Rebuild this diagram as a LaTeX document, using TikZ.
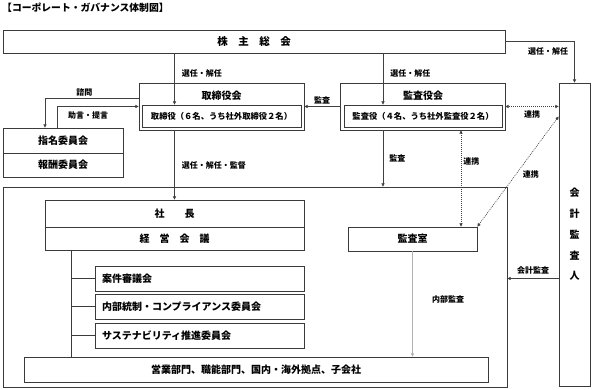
\documentclass[tikz,border=0pt]{standalone}
\usepackage{fontspec}
\setmainfont{Noto Sans CJK JP}
\usetikzlibrary{arrows.meta, positioning, calc}
\definecolor{edge}{HTML}{3A3A3A}

\begin{document}
\begin{tikzpicture}[
    x=1pt, y=-1pt,
    font=\fontsize{9}{11}\selectfont\bfseries,
    >={Triangle[length=3.2pt,width=3.2pt]},
    box/.style={
        draw=edge, line width=0.8pt, inner sep=0pt, fill=white, align=center
    },
    ttl/.style={font=\fontsize{10}{12}\selectfont\bfseries, inner sep=0pt},
    small/.style={font=\fontsize{8.3}{10}\selectfont\bfseries},
    lbl/.style={font=\fontsize{8}{9}\selectfont\bfseries, inner sep=1pt},
    flow/.style={->, line width=0.6pt, draw=black!75},
    link/.style={<->, line width=0.6pt, draw=black!75, dash pattern=on 1pt off 1pt},
    tree/.style={draw=edge, line width=0.8pt}
]
\useasboundingbox (0,0) rectangle (592,390);

% TITLE
\node[anchor=west, font=\fontsize{9.8}{11}\selectfont\bfseries, inner sep=0pt] (title) at (2,8) {【コーポレート・ガバナンス体制図】};

% EXECUTION GROUP (outer frame)
\node[box, fill=none, minimum width=504pt, minimum height=200pt] (grp) at (255,287) {};

% SHAREHOLDERS
\node[box, minimum width=502pt, minimum height=23pt, font=\fontsize{10.5}{12}\selectfont\bfseries] (sh) at (254,41.5) {株　主　総　会};

% BOARD / AUDITORS
\node[box, minimum width=165pt, minimum height=47pt] (bod) at (221.5,106.5) {};
\node[ttl] (bodt) at (221.5,95.5) {取締役会};
\node[box, small, minimum width=159pt, minimum height=22pt] (bodin) at (221.5,116) {取締役（６名、うち社外取締役２名）};

\node[box, minimum width=165pt, minimum height=47pt] (kan) at (422.5,106.5) {};
\node[ttl] (kant) at (423,95.5) {監査役会};
\node[box, small, minimum width=158pt, minimum height=22pt] (kanin) at (423,116) {監査役（４名、うち社外監査役２名）};

% COMMITTEES
\node[box, ttl, minimum width=120pt, minimum height=25pt] (nom) at (63,140.5) {指名委員会};
\node[box, ttl, minimum width=120pt, minimum height=24pt] (rem) at (63,165) {報酬委員会};

% ACCOUNTING AUDITOR
\node[box, minimum width=31pt, minimum height=303pt, inner sep=0pt,
      font=\fontsize{10}{20.8}\selectfont\bfseries] (acct) at (574.5,234.5) {会\\計\\監\\査\\人};

% MANAGEMENT
\node[box, ttl, minimum width=259pt, minimum height=27pt] (pres) at (174.5,213.5) {社　　長};
\node[box, ttl, minimum width=259pt, minimum height=23pt] (mtg) at (174.5,238.5) {経　営　会　議};
\node[box, ttl, minimum width=129pt, minimum height=24pt] (aud) at (412.5,239) {監査室};

\node[box, ttl, minimum width=209pt, minimum height=25pt, text width=195pt, align=left] (c1) at (199.5,278.5) {案件審議会};
\node[box, ttl, minimum width=209pt, minimum height=25pt, text width=195pt, align=left] (c2) at (199.5,306.5) {内部統制・コンプライアンス委員会};
\node[box, ttl, minimum width=209pt, minimum height=25pt, text width=195pt, align=left] (c3) at (199.5,335.5) {サステナビリティ推進委員会};

\node[box, ttl, minimum width=464pt, minimum height=25pt] (ops) at (256,369.5) {営業部門、職能部門、国内・海外拠点、子会社};

% TREE
\coordinate (trunk) at (71,250);
\draw[tree] (trunk) -- (trunk |- ops.north);
\draw[tree] (trunk |- c1) -- (c1.west);
\draw[tree] (trunk |- c2) -- (c2.west);
\draw[tree] (trunk |- c3) -- (c3.west);

% FLOWS
\coordinate (kx) at (383,0);
\coordinate (lx) at (461,0);

\draw[flow] (sh.east) -| node[lbl, pos=0.62, left=5pt] {選任・解任} (acct.north);
\draw[flow] (sh.south -| pres) -- node[lbl, pos=0.4, right=6pt] {選任・解任} (bodin.north -| pres);
\draw[flow] (sh.south -| kx) -- node[lbl, pos=0.4, right=6pt] {選任・解任} (kanin.north -| kx);

\draw[flow] (kan.west) -- node[lbl, above=1pt] {監査} (bod.east);

\draw[flow] ([yshift=8pt]bod.west) -| node[lbl, pos=0.29, above=1pt] {諮問} ([xshift=-18pt]nom.north);
\draw[flow] ([xshift=-6pt]nom.north) |- node[lbl, pos=0.69, below=4pt] {助言・提言} (bod.west);

\draw[flow] (bod.south -| pres) -- node[lbl, right=6pt] {選任・解任・監督} (pres.north);
\draw[flow] (kan.south -| kx) -- node[lbl, right=5pt] {監査} (grp.north -| kx);

% Cooperation (dotted)
\draw[link] (acct.west |- kan.east) -- node[lbl, below=3pt] {連携} (kan.east);
\draw[link] (kan.south -| lx) -- node[lbl, pos=0.32, right=1pt] {連携} (aud.north -| lx);
\draw[link] ($(acct.west |- kan.east)+(0,10)$) -- node[lbl, pos=0.53, right=6pt] {連携} (aud.north east);

% Accounting audit
\draw[flow] (acct.west |- c1) -- node[lbl, above=3pt] {会計監査} (grp.east |- c1);

% Internal audit
\draw[->, line width=1.1pt, draw=black!30] (aud.south) -- node[lbl, pos=0.46, right=18pt] {内部監査} (aud.south |- ops.north);

\end{tikzpicture}
\end{document}
